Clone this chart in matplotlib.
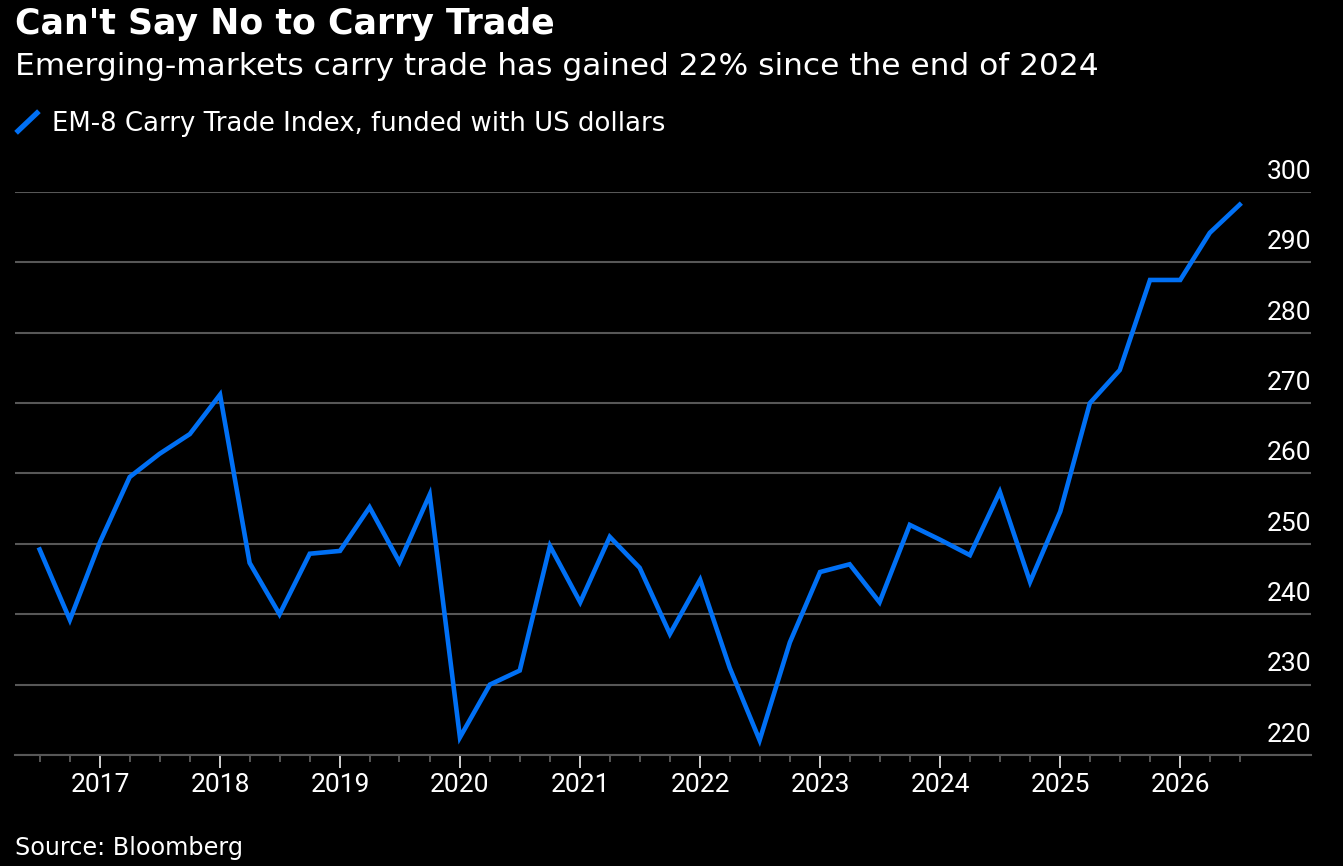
import pandas as pd
import matplotlib
matplotlib.use("Agg")
import matplotlib.pyplot as plt
from matplotlib.lines import Line2D
from matplotlib.transforms import offset_copy

# quarterly index values, Q3 2016 .. Q3 2026
dates = pd.date_range("2016-07-01", "2026-07-01", freq="QS")
carry_index = [
    249.2, 239.2, 250.3, 259.5, 262.8, 265.6, 271.2, 247.3, 240.0, 248.6,
    249.0, 255.2, 247.4, 257.0, 222.5, 230.0, 232.0, 249.7, 241.7, 251.0,
    246.6, 237.2, 244.9, 232.4, 222.1, 236.0, 246.0, 247.1, 241.7, 252.7,
    250.6, 248.4, 257.4, 244.6, 254.6, 270.0, 274.7, 287.5, 287.5, 294.2,
    298.2,
]
y_ticks = [220, 230, 240, 250, 260, 270, 280, 290, 300]
year_ticks = pd.date_range("2017-01-01", "2026-01-01", freq="YS")

title = "Can't Say No to Carry Trade"
subtitle = "Emerging-markets carry trade has gained 22% since the end of 2024"
series_name = "EM-8 Carry Trade Index, funded with US dollars"
source = "Source: Bloomberg"

BG = "#000000"
BLUE = "#0070f5"
GRID = "#575757"
W, H = 1343, 866
TXT = ["DejaVu Sans"]
NUM = ["Roboto", "DejaVu Sans"]

fig = plt.figure(figsize=(W / 100, H / 100), dpi=100, facecolor=BG)
ax = fig.add_axes([15 / W, 1 - 755 / H, 1296 / W, (755 - 192) / H])
ax.set_facecolor(BG)

ax.plot(dates, carry_index, color=BLUE, linewidth=3.3, solid_joinstyle="miter")

ax.set_ylim(220, 300)
ax.set_xlim(pd.Timestamp("2016-04-17"), pd.Timestamp("2027-02-03"))

ax.set_yticks(y_ticks)
ax.tick_params(axis="y", left=False, labelleft=False)
ax.grid(axis="y", color=GRID, linewidth=1.5)
ax.set_axisbelow(True)

# value labels sit just above their gridline, flush with the right end
lab_tr = offset_copy(ax.get_yaxis_transform(), fig=fig, x=0, y=9.5, units="points")
for v in y_ticks:
    ax.text(1.0, v, str(v), transform=lab_tr, ha="right", va="baseline",
            color="white", fontsize=19, family=NUM)

ax.set_xticks(year_ticks)
ax.set_xticklabels([d.strftime("%Y") for d in year_ticks], family=NUM)
ax.set_xticks(dates, minor=True)
ax.tick_params(axis="x", which="major", length=9, width=1.4, color="#d0d0d0",
               labelcolor="white", labelsize=19, pad=4)
ax.tick_params(axis="x", which="minor", length=5, width=1.4, color=GRID)

for s in ["top", "left", "right"]:
    ax.spines[s].set_visible(False)
ax.spines["bottom"].set_color(GRID)
ax.spines["bottom"].set_linewidth(1.5)

fig.text(15 / W, 1 - 34 / H, title, color="white", fontsize=25,
         fontweight="bold", va="baseline", ha="left", family=TXT)
fig.text(15 / W, 1 - 75 / H, subtitle, color="white", fontsize=22.5,
         va="baseline", ha="left", family=TXT)
fig.add_artist(Line2D([18 / W, 37 / W], [1 - 131 / H, 1 - 113 / H],
                      color=BLUE, linewidth=3.8, transform=fig.transFigure))
fig.text(52 / W, 1 - 131 / H, series_name, color="white", fontsize=18.75,
         va="baseline", ha="left", family=TXT)
fig.text(15 / W, 1 - 855 / H, source, color="white", fontsize=17.2,
         va="baseline", ha="left", family=TXT)

fig.savefig("out.png", dpi=100, facecolor=BG)
